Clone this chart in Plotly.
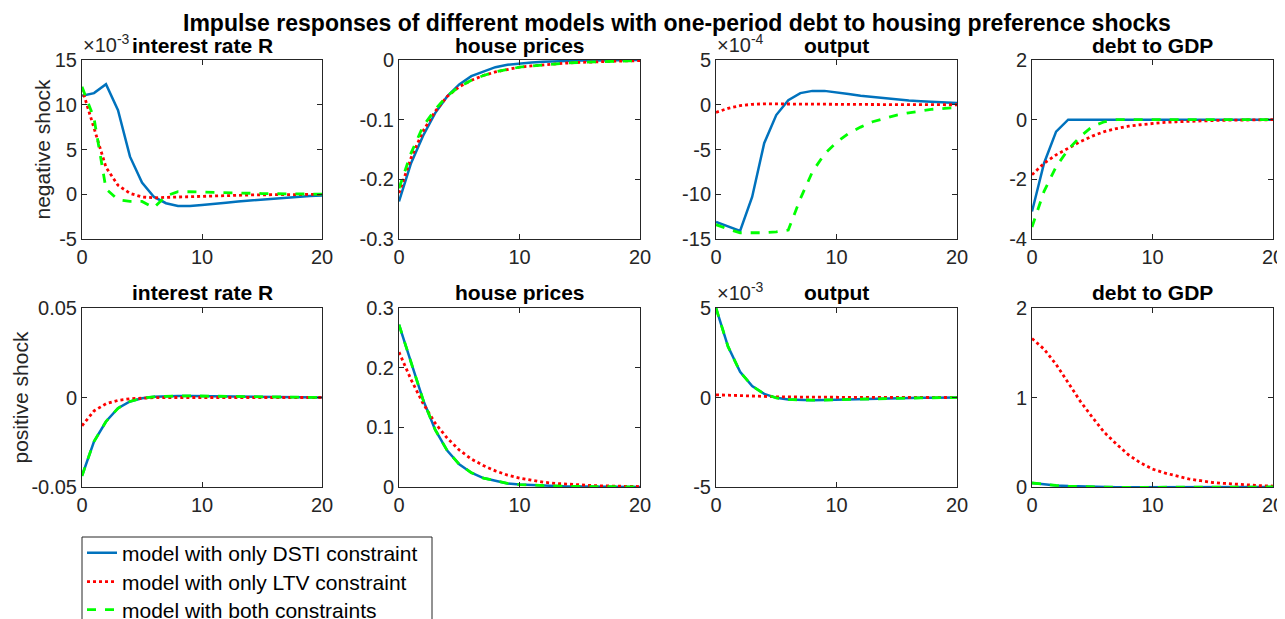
import plotly.graph_objects as go

# horizons
periods = list(range(21))

# --- negative shock (row 1) ---
# interest rate R, in units of 1e-3
neg_rate_dsti = [11.0, 11.3, 12.3, 9.4, 4.2, 1.3, -0.3, -1.0, -1.3, -1.3, -1.2, -1.1, -0.95, -0.8, -0.7, -0.55, -0.45, -0.35, -0.25, -0.2, -0.15]
neg_rate_ltv = [11.8, 7.5, 3.0, 1.0, 0.1, -0.3, -0.4, -0.35, -0.3, -0.25, -0.2, -0.15, -0.12, -0.1, -0.08, -0.06, -0.05, -0.04, -0.03, -0.02, -0.01]
neg_rate_both = [12.0, 8.5, 0.6, -0.6, -0.8, -0.8, -1.5, -0.2, 0.3, 0.3, 0.25, 0.2, 0.15, 0.12, 0.1, 0.08, 0.06, 0.04, 0.03, 0.02, 0.01]
# house prices
neg_hp_dsti = [-0.237, -0.173, -0.127, -0.089, -0.061, -0.041, -0.027, -0.019, -0.012, -0.008, -0.0055, -0.004, -0.003, -0.002, -0.0015, -0.001, -0.0008, -0.0006, -0.0004, -0.0002, -0.0001]
neg_hp_ltv = [-0.223, -0.164, -0.119, -0.086, -0.061, -0.045, -0.034, -0.026, -0.020, -0.016, -0.012, -0.010, -0.008, -0.006, -0.005, -0.004, -0.003, -0.0025, -0.002, -0.0015, -0.001]
neg_hp_both = [-0.215, -0.156, -0.111, -0.083, -0.060, -0.045, -0.034, -0.026, -0.020, -0.016, -0.012, -0.010, -0.008, -0.006, -0.005, -0.004, -0.003, -0.0025, -0.002, -0.0015, -0.001]
# output, in units of 1e-4
neg_out_dsti = [-13.1, -13.6, -14.1, -10.3, -4.3, -1.15, 0.5, 1.3, 1.55, 1.55, 1.4, 1.2, 1.0, 0.85, 0.7, 0.58, 0.48, 0.4, 0.32, 0.26, 0.2]
neg_out_ltv = [-0.85, -0.4, -0.1, 0.05, 0.1, 0.1, 0.08, 0.07, 0.06, 0.05, 0.04, 0.035, 0.03, 0.025, 0.02, 0.015, 0.01, 0.01, 0.005, 0.005, 0.0]
neg_out_both = [-13.4, -13.9, -14.3, -14.3, -14.3, -14.2, -14.0, -10.5, -7.5, -5.5, -4.2, -3.2, -2.5, -1.9, -1.5, -1.15, -0.9, -0.7, -0.5, -0.4, -0.3]
# debt to GDP
neg_debt_dsti = [-3.08, -1.46, -0.4, 0.0, 0.0, 0.0, 0.0, 0.0, 0.0, 0.0, 0.0, 0.0, 0.0, 0.0, 0.0, 0.0, 0.0, 0.0, 0.0, 0.0, 0.0]
neg_debt_ltv = [-1.85, -1.46, -1.18, -0.96, -0.74, -0.55, -0.40, -0.30, -0.22, -0.17, -0.12, -0.09, -0.07, -0.05, -0.04, -0.03, -0.02, -0.015, -0.01, -0.005, 0.0]
neg_debt_both = [-3.6, -2.4, -1.58, -1.0, -0.57, -0.23, -0.07, 0.0, 0.0, 0.0, 0.0, 0.0, 0.0, 0.0, 0.0, 0.0, 0.0, 0.0, 0.0, 0.0, 0.0]

# --- positive shock (row 2) ---
pos_rate_dsti = [-0.0438, -0.0246, -0.0134, -0.006, -0.0022, -0.0004, 0.0004, 0.0008, 0.0009, 0.0009, 0.0008, 0.0007, 0.0006, 0.0005, 0.0004, 0.0003, 0.0002, 0.00015, 0.0001, 0.00005, 0.0]
pos_rate_ltv = [-0.0158, -0.0075, -0.0035, -0.0016, -0.0007, -0.0003, -0.0001, 0.0, 0.0, 0.0, 0.0, 0.0, 0.0, 0.0, 0.0, 0.0, 0.0, 0.0, 0.0, 0.0, 0.0]
pos_rate_both = [-0.0438, -0.0246, -0.0134, -0.006, -0.0022, -0.0004, 0.0004, 0.0008, 0.0009, 0.0009, 0.0008, 0.0007, 0.0006, 0.0005, 0.0004, 0.0003, 0.0002, 0.00015, 0.0001, 0.00005, 0.0]
pos_hp_dsti = [0.272, 0.21, 0.146, 0.096, 0.061, 0.038, 0.024, 0.015, 0.010, 0.006, 0.004, 0.003, 0.002, 0.0015, 0.001, 0.0008, 0.0005, 0.0004, 0.0003, 0.0002, 0.0001]
pos_hp_ltv = [0.226, 0.180, 0.140, 0.107, 0.082, 0.062, 0.047, 0.036, 0.027, 0.020, 0.015, 0.011, 0.008, 0.006, 0.0045, 0.0033, 0.0025, 0.0018, 0.0013, 0.001, 0.0007]
pos_hp_both = [0.272, 0.21, 0.146, 0.096, 0.061, 0.038, 0.024, 0.015, 0.010, 0.006, 0.004, 0.003, 0.002, 0.0015, 0.001, 0.0008, 0.0005, 0.0004, 0.0003, 0.0002, 0.0001]
# output, in units of 1e-3
pos_out_dsti = [5.0, 2.84, 1.43, 0.64, 0.2, -0.02, -0.11, -0.15, -0.15, -0.14, -0.12, -0.1, -0.08, -0.06, -0.05, -0.04, -0.03, -0.02, -0.015, -0.01, -0.005]
pos_out_ltv = [0.15, 0.12, 0.09, 0.07, 0.05, 0.04, 0.03, 0.02, 0.015, 0.01, 0.008, 0.006, 0.005, 0.004, 0.003, 0.002, 0.001, 0.001, 0.0, 0.0, 0.0]
pos_out_both = [5.0, 2.84, 1.43, 0.64, 0.2, -0.02, -0.11, -0.15, -0.15, -0.14, -0.12, -0.1, -0.08, -0.06, -0.05, -0.04, -0.03, -0.02, -0.015, -0.01, -0.005]
pos_debt_dsti = [0.045, 0.03, 0.018, 0.01, 0.005, 0.0, -0.003, -0.004, -0.004, -0.004, -0.003, -0.003, -0.002, -0.002, -0.001, -0.001, -0.001, 0.0, 0.0, 0.0, 0.0]
pos_debt_ltv = [1.66, 1.54, 1.37, 1.17, 0.96, 0.78, 0.61, 0.48, 0.36, 0.27, 0.2, 0.157, 0.12, 0.09, 0.07, 0.05, 0.04, 0.03, 0.02, 0.015, 0.01]
pos_debt_both = [0.045, 0.03, 0.018, 0.01, 0.005, 0.0, -0.003, -0.004, -0.004, -0.004, -0.003, -0.003, -0.002, -0.002, -0.001, -0.001, -0.001, 0.0, 0.0, 0.0, 0.0]

panel_titles = ["interest rate R", "house prices", "output", "debt to GDP"]
row_labels = ["negative shock", "positive shock"]
model_names = ["model with only DSTI constraint", "model with only LTV constraint", "model with both constraints"]

# y ticks per panel (values, labels)
y_ticks = [
    ([-5, 0, 5, 10, 15], ["-5", "0", "5", "10", "15"]),
    ([-0.3, -0.2, -0.1, 0], ["-0.3", "-0.2", "-0.1", "0"]),
    ([-15, -10, -5, 0, 5], ["-15", "-10", "-5", "0", "5"]),
    ([-4, -2, 0, 2], ["-4", "-2", "0", "2"]),
    ([-0.05, 0, 0.05], ["-0.05", "0", "0.05"]),
    ([0, 0.1, 0.2, 0.3], ["0", "0.1", "0.2", "0.3"]),
    ([-5, 0, 5], ["-5", "0", "5"]),
    ([0, 1, 2], ["0", "1", "2"]),
]
exponents = {0: "-3", 2: "-4", 6: "-3"}

panels = [
    (neg_rate_dsti, neg_rate_ltv, neg_rate_both),
    (neg_hp_dsti, neg_hp_ltv, neg_hp_both),
    (neg_out_dsti, neg_out_ltv, neg_out_both),
    (neg_debt_dsti, neg_debt_ltv, neg_debt_both),
    (pos_rate_dsti, pos_rate_ltv, pos_rate_both),
    (pos_hp_dsti, pos_hp_ltv, pos_hp_both),
    (pos_out_dsti, pos_out_ltv, pos_out_both),
    (pos_debt_dsti, pos_debt_ltv, pos_debt_both),
]

# page body has an 8px margin, so the figure is drawn 8px smaller and offset
OFF = 8
W, H = 1285 - OFF, 619 - OFF
col_px = [(82, 322), (399, 640), (716, 957), (1032, 1273)]
row_px = [(60, 239), (308, 487)]
row_label_x = [42, 20]
legend_rows = [553, 582, 610]


def fx(p):
    return (p - OFF) / W


def fy(p):
    return 1 - (p - OFF) / H


styles = [
    dict(color="#0072BD", width=2.5, dash="solid"),
    dict(color="#FF0000", width=2.8, dash="dot"),
    dict(color="#00FF00", width=2.8, dash="dash"),
]

FONT = "Liberation Sans, Arial, sans-serif"
AX = "#262626"

fig = go.Figure()
annotations = []
layout = {}
for k, series in enumerate(panels):
    r, c = divmod(k, 4)
    n = k + 1
    xa = "x" if n == 1 else f"x{n}"
    ya = "y" if n == 1 else f"y{n}"
    for m, ys in enumerate(series):
        fig.add_trace(go.Scatter(
            x=periods, y=ys, mode="lines", name=model_names[m],
            line=styles[m], xaxis=xa, yaxis=ya,
            legend="legend" if m == 0 else f"legend{m + 1}",
            legendgroup=f"g{m}", showlegend=(k == 0),
        ))
    x0, x1 = col_px[c]
    y0, y1 = row_px[r]
    tv, tt = y_ticks[k]
    common = dict(showline=True, linecolor=AX, linewidth=1, mirror="allticks",
                  ticks="inside", ticklen=5, tickcolor=AX, showgrid=False, zeroline=False,
                  tickfont=dict(size=20, color=AX, family=FONT))
    layout["xaxis" if n == 1 else f"xaxis{n}"] = dict(
        domain=[fx(x0), fx(x1)], range=[0, 20], tickvals=[0, 10, 20], ticktext=["0", "10", "20"],
        anchor=ya, **common)
    layout["yaxis" if n == 1 else f"yaxis{n}"] = dict(
        domain=[fy(y1), fy(y0)], range=[tv[0], tv[-1]], tickvals=tv, ticktext=tt,
        anchor=xa, **common)
    annotations.append(dict(
        text=f"<b>{panel_titles[c]}</b>", xref="paper", yref="paper",
        x=fx((x0 + x1) / 2), y=fy(y0 - 15), xanchor="center", yanchor="middle",
        showarrow=False, font=dict(size=21, color="black", family=FONT)))
    if c == 0:
        annotations.append(dict(
            text=row_labels[r], xref="paper", yref="paper", textangle=-90,
            x=fx(row_label_x[r]), y=fy((y0 + y1) / 2), xanchor="center", yanchor="middle",
            showarrow=False, font=dict(size=21, color=AX, family=FONT)))
    if k in exponents:
        annotations.append(dict(
            text=f"\u00d710<sup>{exponents[k]}</sup>", xref="paper", yref="paper",
            x=fx(x0 - 1), y=fy(y0 - 2), xanchor="left", yanchor="bottom",
            showarrow=False, font=dict(size=20, color=AX, family=FONT)))

annotations.append(dict(
    text="<b>Impulse responses of different models with one-period debt to housing preference shocks</b>",
    xref="paper", yref="paper", x=fx(677), y=fy(23), xanchor="center", yanchor="middle",
    showarrow=False, font=dict(size=23, color="black", family=FONT)))

# one legend per entry so the rows can sit as tight as in the reference
legends = {}
for m, ly in enumerate(legend_rows):
    legends["legend" if m == 0 else f"legend{m + 1}"] = dict(
        x=fx(82), y=fy(ly), xanchor="left", yanchor="middle",
        borderwidth=0, bgcolor="rgba(0,0,0,0)",
        font=dict(size=21, color="black", family=FONT))

fig.update_layout(
    width=W, height=H, margin=dict(l=0, r=0, t=0, b=0, autoexpand=False),
    paper_bgcolor="white", plot_bgcolor="white",
    font=dict(family=FONT, color=AX),
    annotations=annotations,
    shapes=[dict(type="rect", xref="paper", yref="paper",
                 x0=fx(82), x1=fx(432), y0=fy(650), y1=fy(537),
                 line=dict(color=AX, width=1), fillcolor="rgba(0,0,0,0)")],
    **legends,
    **layout,
)

fig.write_html("out.html")
